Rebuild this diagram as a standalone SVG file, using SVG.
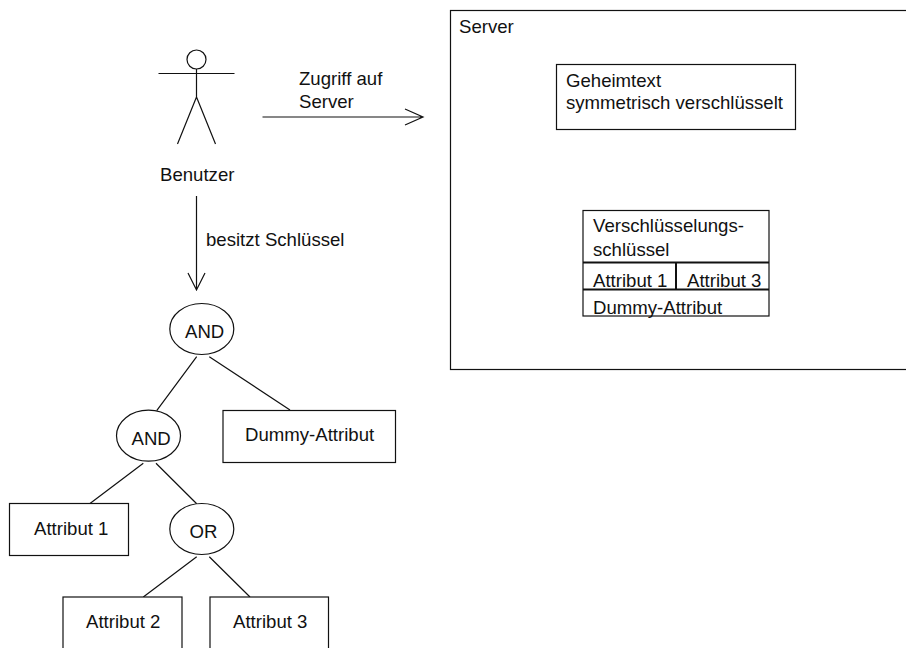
<svg xmlns="http://www.w3.org/2000/svg" width="906" height="648" viewBox="0 0 906 648">
<style>
text{font-family:"Liberation Sans",Arial,sans-serif;font-size:18.6px;fill:#111}
.s{fill:#fff;stroke:#111;stroke-width:1.2}
.l{fill:none;stroke:#111;stroke-width:1.2}
</style>
<rect width="906" height="648" fill="#fff"/>
<g id="server"><rect class="s" x="450.5" y="10.5" width="470" height="359"/><text x="459" y="33">Server</text></g>
<g id="geheimtext"><rect class="s" x="556.5" y="64.5" width="239" height="65"/><text x="566" y="86.500">Geheimtext</text><text x="566" y="109">symmetrisch verschlüsselt</text></g>
<g id="schluessel"><rect class="s" x="583" y="210.5" width="186" height="105.5"/>
<path class="l" style="stroke-width:2" d="M583 262.500H769M583 289.500H769M676 262.500V289.500"/>
<text x="593" y="232">Verschlüsselungs-</text><text x="593" y="256">schlüssel</text><text x="593" y="286.500">Attribut 1</text><text x="687" y="286.500">Attribut 3</text><text x="593" y="313.500">Dummy-Attribut</text></g>
<g id="benutzer"><circle class="l" cx="196.500" cy="59.500" r="9.500"/><path class="l" d="M158.500 73.500H234.500M196.500 69V97M196.500 97L177.500 144M196.500 97L215.500 144"/><text x="160" y="181">Benutzer</text></g>
<g id="connectors"><path class="l" d="M262.500 117H423M405 109L423 117L405 125"/><path class="l" d="M196.500 196V290M188 273L196.500 290L205 273"/>
<path class="l" d="M196.700 356.700L156.700 410.700M209.300 356.700L290 410M143.300 463.300L90 503.500M156 463.300L196.700 503.700M196.700 556.700L143.300 597M209.300 556.700L250 597"/></g>
<g id="lbl-zugriff"><text x="299" y="85">Zugriff auf</text><text x="299" y="108">Server</text></g>
<g id="lbl-besitzt"><text x="206" y="246">besitzt Schlüssel</text></g>
<g id="and1"><ellipse class="s" cx="201.800" cy="329" rx="32" ry="25.500"/><text x="185" y="338">AND</text></g>
<g id="and2"><ellipse class="s" cx="148.500" cy="435.700" rx="32" ry="25.500"/><text x="131.500" y="445">AND</text></g>
<g id="or"><ellipse class="s" cx="201.800" cy="529" rx="32" ry="25.500"/><text x="189.500" y="538">OR</text></g>
<g id="dummy"><rect class="s" x="223" y="410.500" width="172.500" height="52"/><text x="245" y="441">Dummy-Attribut</text></g>
<g id="attr1"><rect class="s" x="9.500" y="503.500" width="119" height="52"/><text x="34" y="535">Attribut 1</text></g>
<g id="attr2"><rect class="s" x="63" y="597" width="119" height="70"/><text x="86" y="628">Attribut 2</text></g>
<g id="attr3"><rect class="s" x="210" y="597" width="118.500" height="70"/><text x="233" y="628">Attribut 3</text></g>
</svg>
